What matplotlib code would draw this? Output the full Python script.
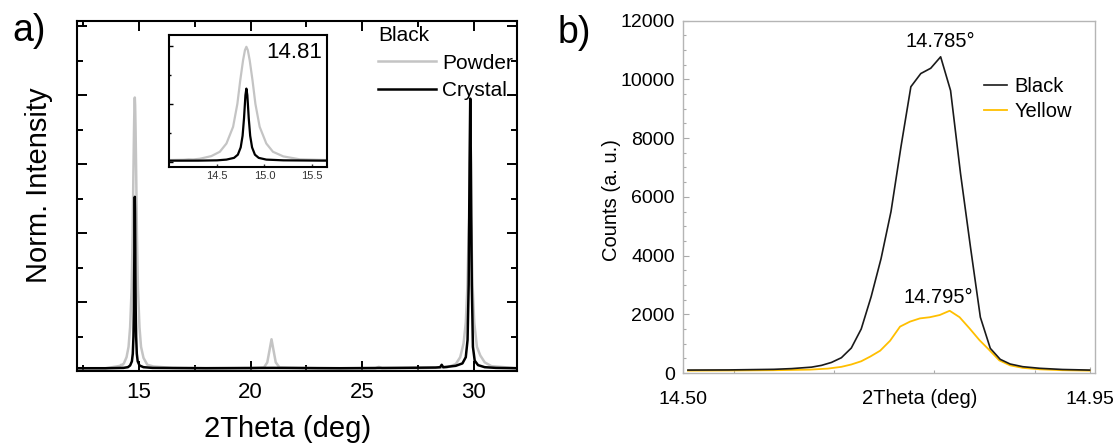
import matplotlib
matplotlib.use("Agg")
import matplotlib.pyplot as plt
from matplotlib.ticker import MultipleLocator, FixedLocator

plt.rcParams['font.family'] = ['Liberation Sans', 'DejaVu Sans']

# --- a) normalised XRD patterns of the black phase ---
crystal_x = [12.3, 13.5, 14.3, 14.5, 14.6, 14.68, 14.72, 14.75, 14.77, 14.785, 14.80, 14.81,
             14.82, 14.835, 14.85, 14.87, 14.90, 14.94, 15.02, 15.2, 15.6, 18.0, 21.0, 24.0,
             26.5, 28.3, 28.5, 28.57, 28.64, 28.8, 29.2, 29.5, 29.65, 29.73, 29.78, 29.82,
             29.85, 29.88, 29.92, 29.97, 30.05, 30.2, 30.5, 31.0, 31.95]
crystal_y = [0.008, 0.008, 0.009, 0.011, 0.016, 0.028, 0.05, 0.10, 0.18, 0.30, 0.46, 0.505,
             0.46, 0.30, 0.18, 0.10, 0.05, 0.028, 0.016, 0.011, 0.009, 0.008, 0.009, 0.008,
             0.009, 0.010, 0.011, 0.018, 0.011, 0.012, 0.015, 0.022, 0.04, 0.09, 0.25, 0.60,
             0.79, 0.60, 0.25, 0.07, 0.03, 0.017, 0.011, 0.009, 0.008]

powder_x = [12.3, 13.5, 13.99, 14.15, 14.2, 14.25, 14.32, 14.44, 14.53, 14.60, 14.67, 14.715,
            14.745, 14.775, 14.795, 14.81, 14.825, 14.845, 14.875, 14.905, 14.95, 15.02, 15.09,
            15.2, 15.373, 15.65, 16.5, 20.0, 20.6, 20.75, 20.85, 20.94, 21.03, 21.13, 21.3,
            23.0, 25.6, 25.75, 25.9, 27.5, 28.8, 29.2, 29.4, 29.55, 29.65, 29.72, 29.78, 29.84,
            29.90, 29.96, 30.03, 30.15, 30.3, 30.5, 30.8, 31.95]
powder_y = [0.008, 0.008, 0.013, 0.015, 0.018, 0.017, 0.022, 0.040, 0.070, 0.127, 0.242, 0.40,
            0.56, 0.70, 0.77, 0.793, 0.77, 0.70, 0.56, 0.40, 0.242, 0.127, 0.070,
            0.038, 0.018, 0.013, 0.009, 0.008, 0.010, 0.025, 0.06, 0.092, 0.06, 0.025, 0.010,
            0.008, 0.008, 0.012, 0.008, 0.008, 0.010, 0.02, 0.04, 0.08, 0.14, 0.24, 0.40, 0.50,
            0.40, 0.24, 0.14, 0.07, 0.045, 0.025, 0.014, 0.008]

# --- b) raw counts around the (100) reflection ---
black_x = [14.505, 14.55, 14.60, 14.62, 14.642, 14.653, 14.664, 14.675, 14.686, 14.697, 14.708,
           14.719, 14.730, 14.741, 14.752, 14.763, 14.774, 14.785, 14.796, 14.807, 14.818,
           14.829, 14.840, 14.851, 14.862, 14.876, 14.895, 14.92, 14.95]
black_y = [100, 105, 125, 150, 200, 260, 360, 520, 850, 1500, 2600, 3900, 5500, 7700, 9750,
           10200, 10380, 10770, 9620, 6800, 4300, 1900, 840, 466, 306, 215, 160, 120, 100]

yellow_x = [14.505, 14.55, 14.60, 14.64, 14.66, 14.675, 14.686, 14.697, 14.707, 14.718, 14.729,
            14.740, 14.751, 14.762, 14.773, 14.784, 14.795, 14.806, 14.817, 14.828, 14.839,
            14.850, 14.862, 14.876, 14.895, 14.92, 14.95]
yellow_y = [80, 85, 95, 115, 150, 210, 290, 400, 560, 760, 1100, 1580, 1750, 1860, 1900, 1975,
            2120, 1900, 1520, 1120, 780, 430, 260, 175, 125, 95, 80]

peak_black = 14.785
peak_yellow = 14.795

GREY = '#c4c4c4'
GOLD = '#ffbf00'

fig = plt.figure(figsize=(11.18, 4.48), dpi=100)

# ---------------- panel a ----------------
ax = fig.add_axes([0.0689, 0.1719, 0.3936, 0.7813])
ax.plot(powder_x, powder_y, color=GREY, lw=1.8, label='Powder')
ax.plot(crystal_x, crystal_y, color='black', lw=1.8, label='Crystal')
ax.set_xlim(12.22, 31.95)
ax.set_ylim(0, 1.015)
ax.xaxis.set_major_locator(MultipleLocator(5))
ax.xaxis.set_minor_locator(MultipleLocator(2.5))
ax.yaxis.set_major_locator(MultipleLocator(0.2))
ax.yaxis.set_minor_locator(MultipleLocator(0.1))
ax.tick_params(which='both', direction='in', top=True, right=True, width=1.4)
ax.tick_params(which='major', length=7, labelsize=16, pad=8)
ax.tick_params(which='minor', length=4)
ax.tick_params(axis='y', labelleft=False)
for s in ax.spines.values():
    s.set_linewidth(1.5)
ax.set_xlabel('2Theta (deg)', fontsize=21)
ax.xaxis.set_label_coords(0.478, -0.125)
ax.set_ylabel('Norm. Intensity', fontsize=21)
ax.yaxis.set_label_coords(-0.055, 0.53)
leg = ax.legend(title='Black', loc='upper right', bbox_to_anchor=(0.99, 0.985),
                frameon=False, fontsize=15, title_fontsize=15, handlelength=2.75,
                handletextpad=0.3, labelspacing=0.4, borderpad=0, borderaxespad=0,
                alignment='left')
leg._legend_box.sep = 6

# inset: zoom on the first reflection
ins = fig.add_axes([0.1508, 0.6272, 0.1417, 0.2946])
ins.plot(powder_x, powder_y, color=GREY, lw=1.6)
ins.plot(crystal_x, crystal_y, color='black', lw=1.6)
ins.set_xlim(13.99, 15.66)
ins.set_ylim(-0.035, 0.874)
ins.set_xticks([14.5, 15.0, 15.5])
ins.set_xticklabels(['14.5', '15.0', '15.5'])
ins.yaxis.set_major_locator(MultipleLocator(0.4))
ins.yaxis.set_minor_locator(MultipleLocator(0.2))
ins.tick_params(which='both', direction='in', width=1.0)
ins.tick_params(axis='x', length=2, labelsize=8, pad=3, colors='#333333')
ins.tick_params(axis='y', which='major', length=3, labelleft=False)
ins.tick_params(axis='y', which='minor', length=1.5)
for s in ins.spines.values():
    s.set_linewidth(1.5)
ins.text(0.97, 0.95, '14.81', transform=ins.transAxes, ha='right', va='top', fontsize=16)

# ---------------- panel b ----------------
bx = fig.add_axes([0.6109, 0.1674, 0.3685, 0.7864])
bx.plot(yellow_x, yellow_y, color=GOLD, lw=1.3, label='Yellow', zorder=2)
bx.plot(black_x, black_y, color='#1a1a1a', lw=1.2, label='Black', zorder=3)
bx.set_xlim(14.4995, 14.956)
bx.set_ylim(0, 12000)
bx.set_xticks([14.50, 14.95])
bx.set_xticklabels(['14.50', '14.95'])
bx.xaxis.set_minor_locator(FixedLocator([14.556, 14.667, 14.778, 14.889]))
bx.yaxis.set_major_locator(MultipleLocator(2000))
bx.yaxis.set_minor_locator(MultipleLocator(500))
bx.tick_params(which='both', direction='in', color='#aaaaaa', width=0.8)
bx.tick_params(which='major', length=4, labelsize=14, pad=6)
bx.tick_params(axis='x', which='major', pad=13)
bx.tick_params(which='minor', length=2)
for s in bx.spines.values():
    s.set_color('#b5b5b5')
    s.set_linewidth(1.0)
bx.set_xlabel('2Theta (deg)', fontsize=14.5)
bx.xaxis.set_label_coords(0.575, -0.045)
bx.set_ylabel('Counts (a. u.)', fontsize=14.5)
bx.yaxis.set_label_coords(-0.15, 0.49)
handles, labels = bx.get_legend_handles_labels()
bx.legend(handles[::-1], labels[::-1], loc='upper right', bbox_to_anchor=(0.945, 0.84),
          frameon=False, fontsize=14.5, handlelength=1.15, handletextpad=0.4,
          labelspacing=0.3, borderpad=0, borderaxespad=0)
bx.annotate(f'{peak_black:.3f}°', xy=(peak_black, max(black_y)), xytext=(0, 4),
            textcoords='offset points', ha='center', va='bottom', fontsize=14.5)
bx.annotate(f'{peak_yellow:.3f}°', xy=(peak_yellow, max(yellow_y)), xytext=(-8, 3),
            textcoords='offset points', ha='center', va='bottom', fontsize=14.5)

fig.text(0.0107, 0.93, 'a)', fontsize=27, va='center', ha='left')
fig.text(0.499, 0.927, 'b)', fontsize=27, va='center', ha='left')

fig.savefig('out.png', dpi=100)
